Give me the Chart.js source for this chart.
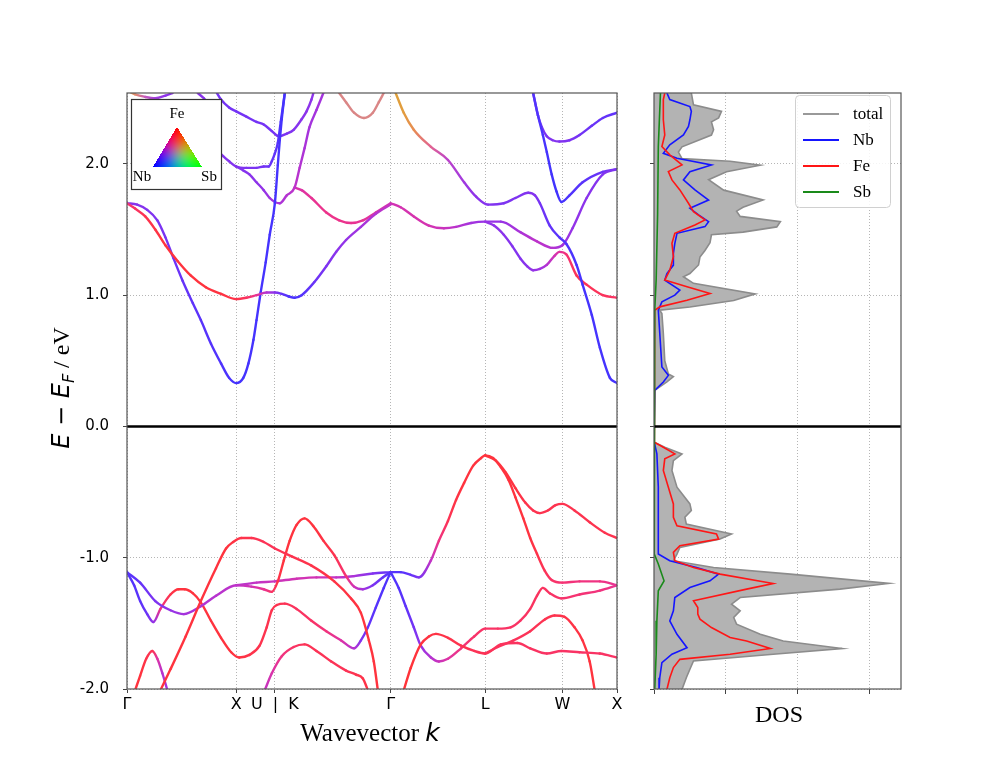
<!DOCTYPE html>
<html><head><meta charset="utf-8">
<script src="https://cdn.jsdelivr.net/npm/chart.js@4"></script>
<style>
html,body{margin:0;padding:0;background:#fff;}
#wrap{position:relative;width:1000px;height:773px;}
canvas{position:absolute;left:0;top:0;}
</style></head><body>
<div id="wrap"><canvas id="bands" width="1000" height="773"></canvas><canvas id="dos" width="1000" height="773"></canvas></div>
<script>
// ---------- axes ----------
const kTicks = [0, 1.000, 1.354, 2.414, 3.280, 3.987, 4.487];
const kLabels = ['Γ', 'X', 'U  |  K', 'Γ', 'L', 'W', 'X'];
const eTicks = [-2, -1, 0, 1, 2];
const eMin = -2.0, eMax = 2.54;
const dosTicks = [0, 1, 2, 3];
const dosMax = 3.44;

// ---------- bands (k, E in eV, Fe weight, Sb weight) ----------
const vb1_k = [0.306,0.398,0.537,0.676,0.815,0.907,0.972,1.047,1.140,1.252,1.354,1.508,1.689,1.898,2.052,2.142,2.215,2.260,2.297];
const vb1_E = [-2.01,-1.85,-1.60,-1.33,-1.08,-0.93,-0.88,-0.85,-0.85,-0.88,-0.93,-0.99,-1.06,-1.18,-1.31,-1.42,-1.63,-1.79,-2.01];
const vb1_fe = [0.95,0.95,0.95,0.95,0.95,0.95,0.93,0.9,0.88,0.85,0.85,0.88,0.9,0.92,0.93,0.95,0.95,0.95,0.95];

const vb2_k = [0,0.120,0.259,0.398,0.519,0.676,0.815,1.000,1.140,1.252,1.326,1.381,1.436,1.490,1.553,1.626,1.707,1.798,1.898,2.006,2.079,2.160,2.251,2.342,2.414];
const vb2_E = [-1.11,-1.19,-1.33,-1.40,-1.43,-1.37,-1.29,-1.21,-1.22,-1.24,-1.26,-1.18,-1.02,-0.87,-0.75,-0.70,-0.76,-0.87,-0.98,-1.14,-1.22,-1.24,-1.21,-1.15,-1.11];
const vb2_fe = [0.15,0.2,0.28,0.35,0.4,0.43,0.46,0.48,0.55,0.65,0.8,0.9,0.95,0.95,0.95,0.95,0.95,0.92,0.88,0.75,0.55,0.4,0.28,0.2,0.15];

const vb3_k = [1.000,1.186,1.354,1.553,1.735,1.916,2.079,2.251,2.414];
const vb3_E = [-1.21,-1.19,-1.18,-1.16,-1.15,-1.15,-1.14,-1.12,-1.11];
const vb3_fe = [0.45,0.5,0.52,0.55,0.55,0.5,0.42,0.3,0.18];

const vb4_k = [0,0.065,0.120,0.185,0.241,0.306,0.398,0.472,0.528,0.602,0.676,0.769,0.861,0.954,1.028,1.121,1.214,1.279,1.326,1.372,1.445,1.553,1.689,1.825,1.961,2.079,2.142,2.206,2.278,2.351,2.414];
const vb4_E = [-1.11,-1.21,-1.33,-1.43,-1.49,-1.39,-1.28,-1.24,-1.24,-1.27,-1.34,-1.48,-1.61,-1.72,-1.76,-1.74,-1.67,-1.53,-1.40,-1.36,-1.35,-1.39,-1.48,-1.56,-1.63,-1.69,-1.63,-1.53,-1.38,-1.23,-1.11];
const vb4_fe = [0.12,0.14,0.17,0.22,0.35,0.7,0.9,0.95,0.95,0.95,0.95,0.95,0.95,0.95,0.93,0.9,0.88,0.88,0.88,0.88,0.85,0.82,0.8,0.72,0.6,0.45,0.3,0.2,0.15,0.12,0.12];

const vb5_k = [0.074,0.120,0.176,0.231,0.278,0.324,0.370];
const vb5_E = [-2.01,-1.90,-1.77,-1.71,-1.77,-1.88,-2.01];
const vb5_fe = [0.95,0.95,0.9,0.85,0.6,0.45,0.4];

const vb6_k = [1.261,1.326,1.417,1.526,1.626,1.735,1.870,2.006,2.097,2.160,2.206];
const vb6_E = [-2.01,-1.88,-1.75,-1.68,-1.66,-1.71,-1.79,-1.86,-1.89,-1.92,-2.01];
const vb6_fe = [0.5,0.58,0.7,0.8,0.85,0.85,0.85,0.85,0.88,0.9,0.92];

const vb7_k = [2.414,2.506,2.598,2.672,2.783,2.856,2.939,3.013,3.087,3.169,3.243,3.280,3.352,3.423,3.495,3.557,3.629,3.692,3.754,3.826,3.889,3.987,4.144,4.330,4.487];
const vb7_E = [-1.11,-1.11,-1.13,-1.15,-1.02,-0.87,-0.72,-0.56,-0.43,-0.30,-0.24,-0.22,-0.24,-0.31,-0.41,-0.54,-0.70,-0.85,-0.97,-1.10,-1.17,-1.19,-1.18,-1.18,-1.21];
const vb7_fe = [0.15,0.15,0.2,0.28,0.5,0.7,0.85,0.92,0.95,0.95,0.95,0.95,0.95,0.95,0.95,0.95,0.95,0.93,0.9,0.85,0.8,0.75,0.72,0.7,0.65];

const vb8_k = [3.280,3.378,3.468,3.557,3.647,3.719,3.781,3.853,3.924,3.987,4.098,4.237,4.376,4.487];
const vb8_E = [-0.22,-0.26,-0.35,-0.47,-0.58,-0.64,-0.66,-0.64,-0.60,-0.59,-0.64,-0.73,-0.81,-0.85];
const vb8_fe = [0.95,0.95,0.95,0.93,0.9,0.88,0.88,0.88,0.88,0.88,0.88,0.88,0.88,0.88];

const vb9_k = [2.534,2.598,2.690,2.764,2.829,2.939,3.059,3.179,3.280,3.423,3.575,3.692,3.844,3.978,4.144,4.330,4.487];
const vb9_E = [-2.01,-1.84,-1.66,-1.60,-1.58,-1.61,-1.67,-1.71,-1.73,-1.66,-1.65,-1.69,-1.73,-1.71,-1.72,-1.73,-1.76];
const vb9_fe = [0.97,0.97,0.95,0.93,0.92,0.9,0.88,0.85,0.85,0.83,0.82,0.82,0.8,0.8,0.8,0.8,0.8];

const vb10_k = [3.280,3.396,3.540,3.692,3.826,3.915,4.006,4.098,4.172,4.237,4.283];
const vb10_E = [-1.73,-1.68,-1.63,-1.56,-1.47,-1.44,-1.45,-1.53,-1.63,-1.79,-2.01];
const vb10_fe = [0.82,0.82,0.83,0.85,0.87,0.88,0.9,0.92,0.93,0.95,0.95];

const vb11_k = [2.414,2.488,2.552,2.626,2.690,2.783,2.856,2.939,3.059,3.179,3.280,3.396,3.513,3.602,3.692,3.754,3.808,3.871,3.978,4.144,4.330,4.487];
const vb11_E = [-1.11,-1.23,-1.37,-1.53,-1.67,-1.76,-1.79,-1.77,-1.69,-1.60,-1.54,-1.54,-1.53,-1.48,-1.39,-1.29,-1.23,-1.27,-1.31,-1.28,-1.25,-1.21];
const vb11_fe = [0.12,0.14,0.18,0.25,0.35,0.45,0.52,0.6,0.72,0.78,0.8,0.8,0.8,0.8,0.82,0.82,0.82,0.8,0.78,0.75,0.72,0.65];

const cb1_k = [0,0.074,0.167,0.259,0.352,0.463,0.583,0.722,0.861,1.000,1.093,1.186,1.279,1.354,1.417,1.481,1.535,1.599,1.716,1.825,1.916,2.006,2.142,2.278,2.414];
const cb1_E = [1.70,1.66,1.60,1.50,1.38,1.26,1.15,1.06,1.01,0.97,0.98,1.00,1.02,1.02,1.01,0.99,0.98,1.00,1.10,1.22,1.33,1.42,1.52,1.62,1.69];
const cb1_fe = [0.75,0.8,0.88,0.92,0.95,0.95,0.95,0.95,0.93,0.9,0.82,0.65,0.45,0.32,0.2,0.12,0.1,0.14,0.22,0.28,0.32,0.35,0.4,0.45,0.5];

const cb2_k = [0,0.093,0.185,0.278,0.352,0.426,0.509,0.602,0.676,0.769,0.861,0.935,1.000,1.065,1.112,1.158,1.186,1.224,1.270,1.307,1.354,1.381,1.399,1.417,1.445];
const cb2_E = [1.70,1.69,1.65,1.57,1.44,1.28,1.11,0.94,0.81,0.63,0.48,0.37,0.33,0.37,0.48,0.66,0.81,1.02,1.25,1.46,1.70,1.99,2.18,2.34,2.54];
const cb2_fe = [0.32,0.31,0.3,0.28,0.26,0.24,0.21,0.18,0.16,0.14,0.12,0.1,0.08,0.08,0.08,0.08,0.08,0.08,0.08,0.08,0.08,0.08,0.08,0.08,0.08];

const cb3_k = [0.769,0.880,0.935,1.000,1.093,1.186,1.252,1.298,1.326,1.354,1.381,1.408,1.445];
const cb3_E = [2.15,2.06,2.02,1.98,1.97,1.97,1.98,1.98,2.02,2.08,2.16,2.32,2.54];
const cb3_fe = [0.3,0.3,0.3,0.3,0.28,0.27,0.25,0.22,0.2,0.18,0.15,0.12,0.1];

const cb4_k = [1.000,1.065,1.121,1.186,1.252,1.307,1.354,1.399,1.463,1.535,1.581,1.626,1.671,1.735,1.798];
const cb4_E = [1.98,1.95,1.92,1.86,1.80,1.74,1.71,1.70,1.76,1.82,1.97,2.12,2.28,2.41,2.54];
const cb4_fe = [0.3,0.3,0.32,0.33,0.35,0.38,0.4,0.42,0.45,0.48,0.45,0.42,0.4,0.4,0.4];

const cb5_k = [1.535,1.599,1.689,1.825,1.943,2.052,2.160,2.278,2.414];
const cb5_E = [1.82,1.80,1.74,1.63,1.57,1.55,1.57,1.63,1.70];
const cb5_fe = [0.55,0.6,0.65,0.68,0.68,0.66,0.64,0.6,0.55];

const cb6_k = [0,0.074,0.167,0.259,0.352,0.417];
const cb6_E = [2.56,2.53,2.51,2.50,2.52,2.54];
const cb6_fe = [0.6,0.55,0.45,0.38,0.33,0.32];
const cb6_sb = [0.35,0.28,0.12,0.04,0,0];

const cb7_k = [0.648,0.704,0.750];
const cb7_E = [2.54,2.50,2.46];
const cb7_fe = [0.32,0.32,0.32];

const cb8_k = [0.824,0.861,0.935,1.000,1.093,1.186,1.252,1.326,1.390,1.463,1.526,1.599,1.644,1.689,1.707];
const cb8_E = [2.54,2.49,2.43,2.40,2.36,2.32,2.30,2.25,2.21,2.23,2.26,2.34,2.40,2.49,2.54];
const cb8_fe = [0.25,0.25,0.25,0.25,0.25,0.25,0.25,0.25,0.26,0.28,0.3,0.32,0.33,0.33,0.33];

const cb9_k = [1.943,2.006,2.079,2.170,2.251,2.306,2.351];
const cb9_E = [2.54,2.47,2.39,2.35,2.39,2.47,2.54];
const cb9_fe = [0.5,0.5,0.5,0.5,0.5,0.5,0.5];
const cb9_sb = [0.25,0.25,0.25,0.25,0.25,0.25,0.25];

const cb10_k = [2.460,2.534,2.626,2.783,2.939,3.087,3.197,3.307,3.450,3.557,3.674,3.736,3.781,3.871,3.960,4.024,4.117,4.172,4.256,4.330,4.422,4.487];
const cb10_E = [2.54,2.39,2.26,2.13,2.03,1.86,1.75,1.69,1.70,1.74,1.78,1.76,1.70,1.53,1.44,1.39,1.23,1.08,0.85,0.60,0.37,0.33];
const cb10_fe = [0.6,0.6,0.6,0.55,0.45,0.38,0.33,0.3,0.28,0.28,0.3,0.3,0.25,0.2,0.15,0.12,0.1,0.08,0.08,0.08,0.08,0.08];
const cb10_sb = [0.38,0.36,0.3,0.15,0.05,0.02,0,0,0,0,0,0,0,0,0,0,0,0,0,0,0,0];

const cb11_k = [2.414,2.506,2.626,2.764,2.902,3.013,3.151,3.280,3.423,3.602,3.754,3.898,3.987,4.080,4.209,4.357,4.487];
const cb11_E = [1.70,1.67,1.60,1.53,1.51,1.52,1.55,1.56,1.56,1.48,1.41,1.36,1.38,1.51,1.74,1.92,1.96];
const cb11_fe = [0.55,0.56,0.57,0.56,0.52,0.47,0.4,0.36,0.36,0.42,0.48,0.45,0.4,0.35,0.32,0.3,0.28];

const cb12_k = [3.280,3.361,3.450,3.531,3.602,3.665,3.719,3.781,3.844,3.915,3.960,4.024,4.117,4.209,4.357,4.487];
const cb12_E = [1.56,1.53,1.46,1.37,1.28,1.22,1.19,1.20,1.23,1.30,1.33,1.31,1.15,1.08,1.00,0.98];
const cb12_fe = [0.36,0.34,0.32,0.3,0.3,0.32,0.35,0.38,0.45,0.55,0.62,0.75,0.85,0.85,0.83,0.8];

const cb13_k = [3.719,3.763,3.808,3.844,3.889,3.933,3.978,4.052,4.172,4.357,4.487];
const cb13_E = [2.54,2.37,2.22,2.09,1.92,1.79,1.71,1.76,1.86,1.94,1.96];
const cb13_fe = [0.15,0.13,0.1,0.08,0.07,0.07,0.08,0.12,0.16,0.22,0.26];

const cb14_k = [3.719,3.763,3.799,3.844,3.898,3.960,4.052,4.144,4.256,4.357,4.487];
const cb14_E = [2.54,2.37,2.28,2.21,2.18,2.17,2.18,2.22,2.29,2.35,2.39];
const cb14_fe = [0.15,0.2,0.25,0.28,0.3,0.3,0.28,0.25,0.22,0.2,0.18];

// ---------- DOS (E in eV, states) ----------
const dosTotal_E = [2.54,2.45,2.40,2.35,2.32,2.26,2.22,2.13,2.09,2.04,2.02,1.99,1.94,1.88,1.80,1.725,1.67,1.64,1.60,1.56,1.52,1.48,1.46,1.40,1.34,1.29,1.23,1.165,1.14,1.09,1.01,0.96,0.91,0.885,0.86,0.71,0.50,0.40,0.38,0.34,0.275,0.26,
  -0.11,-0.12,-0.158,-0.209,-0.26,-0.336,-0.463,-0.59,-0.641,-0.692,-0.743,-0.819,-0.858,-0.921,-0.972,-1.023,-1.074,-1.125,-1.196,-1.239,-1.303,-1.354,-1.405,-1.455,-1.506,-1.583,-1.634,-1.692,-1.735,-1.786,-1.85,-1.914,-2.003];
const dosTotal = [0.52,0.55,0.94,0.90,0.80,0.83,0.80,0.39,0.34,0.39,1.06,1.48,1.01,0.76,0.97,1.52,1.24,1.15,1.20,1.76,1.71,1.24,0.80,0.78,0.71,0.64,0.62,0.50,0.41,0.55,1.41,1.11,0.50,0.08,0.11,0.13,0.15,0.20,0.27,0.18,0.01,0,
  0,0.01,0.15,0.39,0.27,0.25,0.32,0.50,0.52,0.43,0.45,1.08,0.92,0.36,0.32,0.27,0.83,1.90,3.27,2.59,1.20,1.08,1.20,1.11,1.15,1.48,1.80,2.62,1.66,0.55,0.50,0.45,0.39];

const dosNb_E = [2.54,2.49,2.437,2.40,2.336,2.285,2.221,2.145,2.081,2.043,1.992,1.941,1.878,1.802,1.725,1.662,1.611,1.56,1.522,1.471,1.395,1.318,1.229,1.165,1.115,1.038,1.00,0.949,0.885,0.453,0.389,0.338,0.275,0.26,
  -0.11,-0.209,-0.463,-0.718,-0.972,-1.023,-1.074,-1.125,-1.176,-1.227,-1.303,-1.405,-1.481,-1.583,-1.685,-1.735,-1.799,-1.914,-2.003];
const dosNb = [0.18,0.22,0.50,0.52,0.50,0.48,0.41,0.22,0.13,0.32,0.80,0.50,0.41,0.57,0.76,0.50,0.62,0.76,0.71,0.32,0.29,0.27,0.27,0.18,0.15,0.36,0.29,0.11,0.06,0.11,0.20,0.13,0.01,0,
  0,0.04,0.06,0.06,0.06,0.22,0.59,0.90,0.78,0.50,0.29,0.27,0.22,0.32,0.46,0.25,0.11,0.08,0.07];

const dosFe_E = [2.54,2.489,2.336,2.221,2.132,2.069,1.992,1.941,1.878,1.802,1.70,1.636,1.573,1.534,1.471,1.395,1.293,1.191,1.115,1.064,1.013,0.962,0.911,0.885,0.275,0.26,
  -0.11,-0.12,-0.158,-0.209,-0.247,-0.336,-0.463,-0.59,-0.692,-0.756,-0.819,-0.858,-0.908,-0.959,-1.023,-1.074,-1.125,-1.196,-1.239,-1.328,-1.379,-1.43,-1.468,-1.532,-1.608,-1.634,-1.692,-1.735,-1.774,-1.837,-1.914,-2.003];
const dosFe = [0.15,0.13,0.13,0.15,0.11,0.22,0.39,0.20,0.25,0.36,0.48,0.55,0.71,0.57,0.29,0.25,0.27,0.22,0.15,0.46,0.78,0.46,0.08,0.01,0.01,0,
  0,0.01,0.13,0.29,0.15,0.13,0.20,0.27,0.27,0.32,0.87,0.90,0.36,0.27,0.29,0.55,0.92,1.66,1.29,0.55,0.61,0.61,0.64,0.80,1.06,1.29,1.62,1.06,0.36,0.27,0.22,0.18];

const dosSb_E = [2.54,2.132,1.611,1.115,0.885,0.275,0.26,-0.11,-0.972,-1.048,-1.176,-1.252,-1.481,-1.735,-2.003];
const dosSb = [0.09,0.06,0.05,0.03,0.01,0.005,0,0,0.01,0.06,0.14,0.06,0.04,0.03,0.01];

// ---------- assemble ----------
const bandList = [
  [vb1_k,vb1_E,vb1_fe],[vb2_k,vb2_E,vb2_fe],[vb3_k,vb3_E,vb3_fe],[vb4_k,vb4_E,vb4_fe],
  [vb5_k,vb5_E,vb5_fe],[vb6_k,vb6_E,vb6_fe],[vb7_k,vb7_E,vb7_fe],[vb8_k,vb8_E,vb8_fe],
  [vb9_k,vb9_E,vb9_fe],[vb10_k,vb10_E,vb10_fe],[vb11_k,vb11_E,vb11_fe],
  [cb1_k,cb1_E,cb1_fe],[cb2_k,cb2_E,cb2_fe],[cb3_k,cb3_E,cb3_fe],[cb4_k,cb4_E,cb4_fe],
  [cb5_k,cb5_E,cb5_fe],[cb6_k,cb6_E,cb6_fe,cb6_sb],[cb7_k,cb7_E,cb7_fe],[cb8_k,cb8_E,cb8_fe],
  [cb9_k,cb9_E,cb9_fe,cb9_sb],[cb10_k,cb10_E,cb10_fe,cb10_sb],[cb11_k,cb11_E,cb11_fe],
  [cb12_k,cb12_E,cb12_fe],[cb13_k,cb13_E,cb13_fe],[cb14_k,cb14_E,cb14_fe]
];

// weights (Fe, Sb, Nb) -> (R, G, B), length-normalised, then softened towards white
function projRGB(fe, sb) {
  const nb = Math.max(0, 1 - fe - sb);
  const n = Math.sqrt(fe * fe + sb * sb + nb * nb) || 1;
  const a = 0.8;
  const f = v => Math.round(255 * ((v / n) * a + (1 - a)));
  return 'rgb(' + f(fe) + ',' + f(sb) + ',' + f(nb) + ')';
}
function bandColor(b, i) {
  const sb = b[3] ? b[3][i] : 0;
  return projRGB(b[2][i], sb);
}

const bandDatasets = bandList.map((b) => ({
  data: b[0].map((k, i) => ({x: k, y: b[1][i]})),
  borderColor: bandColor(b, 0),
  borderWidth: 2.4,
  pointRadius: 0,
  fill: false,
  cubicInterpolationMode: 'monotone',
  borderCapStyle: 'round',
  borderJoinStyle: 'round',
  clip: 0,
  segment: {
    borderColor: (sc) => {
      const bb = bandList[sc.datasetIndex];
      const g = sc.chart.ctx.createLinearGradient(sc.p0.x, sc.p0.y, sc.p1.x, sc.p1.y);
      g.addColorStop(0, bandColor(bb, sc.p0DataIndex));
      g.addColorStop(1, bandColor(bb, sc.p1DataIndex));
      return g;
    },
    borderDashOffset: (sc) => sc.p0DataIndex
  }
}));

function frameAndFermi(chart) {
  const c = chart.ctx, a = chart.chartArea;
  const y0 = chart.scales.y.getPixelForValue(0);
  c.save();
  c.strokeStyle = '#000'; c.lineWidth = 2.6;
  c.beginPath(); c.moveTo(a.left, y0); c.lineTo(a.right, y0); c.stroke();
  c.strokeStyle = '#555'; c.lineWidth = 1.2;
  c.strokeRect(a.left, a.top, a.right - a.left, a.bottom - a.top);
  c.restore();
}

function drawParts(c, parts, cx, cy) {
  let w = 0;
  parts.forEach(p => { c.font = p.f; p.w = c.measureText(p.t).width; w += p.w; });
  let x = cx - w / 2;
  c.textBaseline = 'alphabetic'; c.textAlign = 'left'; c.fillStyle = '#000';
  parts.forEach(p => { c.font = p.f; c.fillText(p.t, x, cy + (p.dy || 0)); x += p.w; });
}

const bandPlugin = {
  id: 'bandDeco',
  afterDatasetsDraw(chart) {
    const c = chart.ctx;
    frameAndFermi(chart);
    // inset: projection colour triangle
    const L = 131, T = 99, R = 222, B = 190;
    c.save();
    c.fillStyle = '#fff'; c.fillRect(L, T, R - L, B - T);
    c.strokeStyle = '#333'; c.lineWidth = 1.2; c.strokeRect(L + 0.5, T + 0.5, R - L - 1, B - T - 1);
    const P = {x: 177, y: 127}, Q = {x: 153, y: 167}, S = {x: 202, y: 167};
    const x0 = 150, y0 = 124, w = 55, h = 46;
    const img = c.getImageData(x0, y0, w, h);
    const den = (Q.y - S.y) * (P.x - S.x) + (S.x - Q.x) * (P.y - S.y);
    for (let j = 0; j < h; j++) for (let i = 0; i < w; i++) {
      const px = x0 + i + 0.5, py = y0 + j + 0.5;
      const l1 = ((Q.y - S.y) * (px - S.x) + (S.x - Q.x) * (py - S.y)) / den;
      const l2 = ((S.y - P.y) * (px - S.x) + (P.x - S.x) * (py - S.y)) / den;
      const l3 = 1 - l1 - l2;
      if (l1 < 0 || l2 < 0 || l3 < 0) continue;
      const n = Math.sqrt(l1 * l1 + l2 * l2 + l3 * l3);
      const o = (j * w + i) * 4;
      img.data[o] = Math.round(255 * l1 / n);
      img.data[o + 1] = Math.round(255 * l3 / n);
      img.data[o + 2] = Math.round(255 * l2 / n);
      img.data[o + 3] = 255;
    }
    c.putImageData(img, x0, y0);
    c.fillStyle = '#000'; c.font = "15px 'Liberation Serif'"; c.textAlign = 'center'; c.textBaseline = 'alphabetic';
    c.fillText('Fe', 177, 118);
    c.fillText('Nb', 142, 181);
    c.fillText('Sb', 209, 181);
    c.restore();
    // axis titles
    c.save();
    drawParts(c, [{t: 'Wavevector ', f: "25px 'Liberation Serif'"}, {t: 'k', f: "italic 25px 'DejaVu Sans'"}], 370, 741);
    c.translate(60, 388); c.rotate(-Math.PI / 2);
    drawParts(c, [
      {t: 'E', f: "italic 24px 'DejaVu Sans'"},
      {t: ' − ', f: "24px 'DejaVu Sans'"},
      {t: 'E', f: "italic 24px 'DejaVu Sans'"},
      {t: 'F', f: "italic 16px 'DejaVu Sans'", dy: 5},
      {t: ' / eV', f: "24px 'Liberation Serif'"}
    ], 0, 9);
    c.restore();
  }
};

const gridCommon = {color: '#b5b5b5', lineWidth: 1, tickColor: '#444', tickLength: 4, tickWidth: 1, tickBorderDash: []};

new Chart(document.getElementById('bands'), {
  type: 'line',
  data: {datasets: bandDatasets},
  options: {
    responsive: false, animation: false, events: [],
    layout: {padding: {left: 57, top: 93, right: 383, bottom: 44}},
    plugins: {legend: {display: false}, tooltip: {enabled: false}},
    scales: {
      x: {
        type: 'linear', min: 0, max: kTicks[kTicks.length - 1],
        afterBuildTicks: s => { s.ticks = kTicks.map(v => ({value: v})); },
        afterFit: s => { s.height = 40; },
        grid: gridCommon, border: {display: false, dash: [1, 2]},
        ticks: {autoSkip: false, maxRotation: 0, padding: 2, color: '#000',
          font: {family: 'DejaVu Sans', size: 16},
          callback: (v, i) => kLabels[i]}
      },
      y: {
        type: 'linear', min: eMin, max: eMax,
        afterBuildTicks: s => { s.ticks = eTicks.map(v => ({value: v})); },
        afterFit: s => { s.width = 70; },
        grid: gridCommon, border: {display: false, dash: [1, 2]},
        ticks: {autoSkip: false, padding: 14, color: '#000',
          font: {family: 'DejaVu Sans', size: 15},
          callback: v => v.toFixed(1)}
      }
    }
  },
  plugins: [bandPlugin]
});

// ---------- DOS ----------
const dosSeries = [
  {label: 'total', E: dosTotal_E, v: dosTotal, color: '#8c8c8c', legend: '#999999', width: 1.6, fill: 'origin', bg: '#b3b3b3', order: 10},
  {label: 'Nb', E: dosNb_E, v: dosNb, color: '#1515ff', legend: '#1515ff', width: 1.6, fill: false, order: 3},
  {label: 'Fe', E: dosFe_E, v: dosFe, color: '#ff1515', legend: '#ff1515', width: 1.6, fill: false, order: 2},
  {label: 'Sb', E: dosSb_E, v: dosSb, color: '#1a8a1a', legend: '#1a8a1a', width: 1.6, fill: false, order: 1}
];

const dosPlugin = {
  id: 'dosDeco',
  afterDatasetsDraw(chart) {
    const c = chart.ctx;
    frameAndFermi(chart);
    c.save();
    const L = 795.5, T = 95.5, W = 95, H = 112, r = 4;
    c.beginPath();
    c.moveTo(L + r, T); c.lineTo(L + W - r, T); c.quadraticCurveTo(L + W, T, L + W, T + r);
    c.lineTo(L + W, T + H - r); c.quadraticCurveTo(L + W, T + H, L + W - r, T + H);
    c.lineTo(L + r, T + H); c.quadraticCurveTo(L, T + H, L, T + H - r);
    c.lineTo(L, T + r); c.quadraticCurveTo(L, T, L + r, T); c.closePath();
    c.fillStyle = 'rgba(255,255,255,0.85)'; c.fill();
    c.strokeStyle = '#d0d0d0'; c.lineWidth = 1; c.stroke();
    chart.data.datasets.forEach((ds, i) => {
      const y = 114 + i * 26;
      c.strokeStyle = ds.legendColor; c.lineWidth = 2;
      c.beginPath(); c.moveTo(803, y); c.lineTo(839, y); c.stroke();
      c.fillStyle = '#000'; c.font = "17px 'Liberation Serif'"; c.textAlign = 'left'; c.textBaseline = 'middle';
      c.fillText(ds.label, 853, y + 1);
    });
    c.restore();
    c.save();
    drawParts(c, [{t: 'DOS', f: "24px 'Liberation Serif'"}], 779, 722);
    c.restore();
  }
};

new Chart(document.getElementById('dos'), {
  type: 'line',
  data: {
    datasets: dosSeries.map(s => ({
      label: s.label,
      data: s.E.map((e, i) => ({x: s.v[i], y: e})),
      borderColor: s.color, legendColor: s.legend,
      borderWidth: s.width, pointRadius: 0, tension: 0,
      fill: s.fill, backgroundColor: s.bg || s.color, order: s.order, clip: 0
    }))
  },
  options: {
    indexAxis: 'y', responsive: false, animation: false, events: [],
    layout: {padding: {left: 644, top: 93, right: 99, bottom: 64}},
    plugins: {legend: {display: false}, tooltip: {enabled: false}},
    scales: {
      x: {
        type: 'linear', min: 0, max: dosMax,
        afterBuildTicks: s => { s.ticks = dosTicks.map(v => ({value: v})); },
        afterFit: s => { s.height = 20; },
        grid: Object.assign({}, gridCommon, {tickLength: 5}), border: {display: false, dash: [1, 2]},
        ticks: {display: false}
      },
      y: {
        type: 'linear', min: eMin, max: eMax,
        afterBuildTicks: s => { s.ticks = eTicks.map(v => ({value: v})); },
        afterFit: s => { s.width = 10; },
        grid: gridCommon, border: {display: false, dash: [1, 2]},
        ticks: {display: false}
      }
    }
  },
  plugins: [dosPlugin]
});
</script>
</body></html>
